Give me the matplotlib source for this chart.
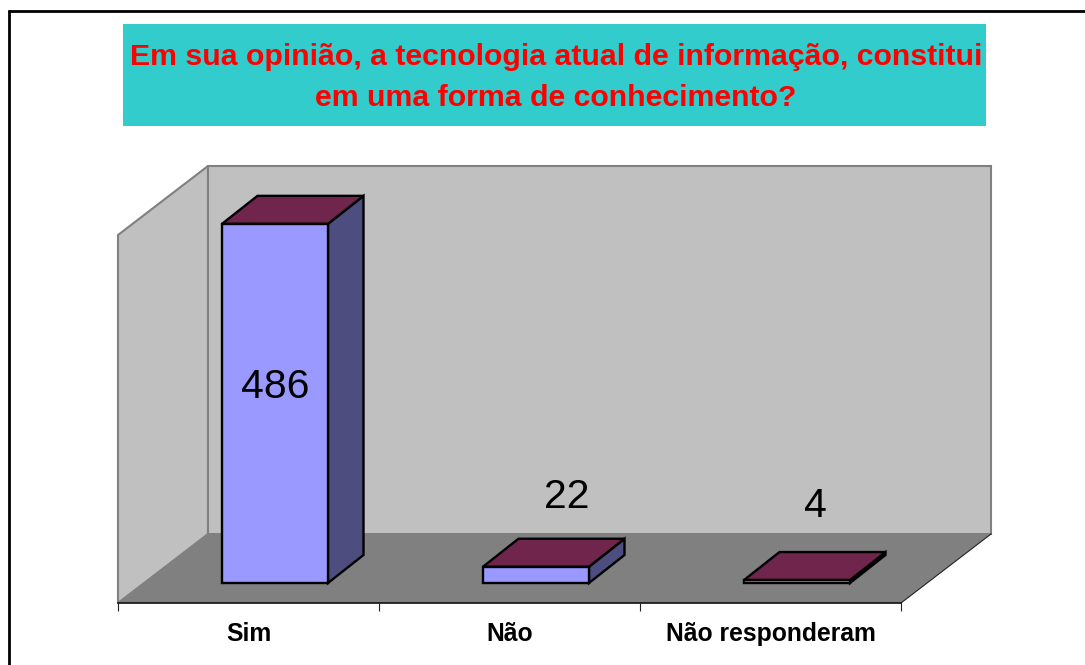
# 3d style column chart, front plane of the box is the axes
import matplotlib
matplotlib.use('Agg')
from matplotlib import pyplot as plt
from matplotlib.lines import Line2D
from matplotlib.patches import Polygon, Rectangle

plt.rcParams['font.family'] = ['Liberation Sans', 'DejaVu Sans']

categories = ['Sim', 'Não', 'Não responderam']
values = [486, 22, 4]
title = 'Em sua opinião, a tecnologia atual de informação, constitui\nem uma forma de conhecimento?'

W, H = 1085, 665
px_per_unit = 0.739
px_per_cat = 261.0

fig = plt.figure(figsize=(W / 100, H / 100), dpi=100)
fig.patch.set_facecolor('white')

# outer frame, runs off the right and bottom of the image
fig.add_artist(Line2D([9 / W, 9 / W], [0, 1 - 10 / H], color='black', lw=2.0, solid_capstyle='butt'))
fig.add_artist(Line2D([8 / W, 1], [1 - 11 / H, 1 - 11 / H], color='black', lw=2.0, solid_capstyle='butt'))

# title box
fig.add_artist(Rectangle((123 / W, 1 - 126 / H), 863 / W, 102 / H, color='#33CCCC', lw=0))
fig.text(556 / W, 1 - 77.5 / H, title, color='#FF0000', fontsize=21.75, fontweight='bold',
         ha='center', va='center', linespacing=1.55)

# axes covers the front plane
top_px, bottom_px = 235, 603
base_px = 583
ax = fig.add_axes([118 / W, 1 - bottom_px / H, 783 / W, (bottom_px - top_px) / H])
ax.set_xlim(-0.5, 2.5)
ax.set_ylim(-(bottom_px - base_px) / px_per_unit, (base_px - top_px) / px_per_unit)
ax.patch.set_visible(False)

# depth of the box and of a bar, in data units
box_dx, box_dy = 90 / px_per_cat, 69 / px_per_unit
bar_dx, bar_dy = 35.5 / px_per_cat, 28 / px_per_unit
x0, x1 = ax.get_xlim()
y0, y1 = ax.get_ylim()


def poly(points, face, edge='none', lw=0.0, z=1):
    ax.add_patch(Polygon(points, closed=True, facecolor=face, edgecolor=edge, linewidth=lw,
                         joinstyle='miter', clip_on=False, zorder=z))


wall_top = y1 + box_dy
poly([(x0, y0), (x0, y1), (x0 + box_dx, wall_top), (x0 + box_dx, y0 + box_dy)],
     '#C0C0C0', '#808080', 1.5, 1)
poly([(x0 + box_dx, y0 + box_dy), (x0 + box_dx, wall_top), (x1 + box_dx, wall_top),
      (x1 + box_dx, y0 + box_dy)], '#C0C0C0', '#808080', 1.5, 1)
poly([(x0, y0), (x0 + box_dx, y0 + box_dy), (x1 + box_dx, y0 + box_dy), (x1, y0)],
     '#808080', z=2)
ax.plot([x1, x1 + box_dx], [y0, y0 + box_dy], color='#222222', lw=0.8, clip_on=False, zorder=2)

# bars
bar_width = 106 / px_per_cat
bar_shift = 26.5 / px_per_cat
for i, v in enumerate(values):
    left = i + bar_shift - bar_width / 2
    right = left + bar_width
    poly([(right, 0), (right, v), (right + bar_dx, v + bar_dy), (right + bar_dx, bar_dy)],
         '#4D4D80', 'black', 1.7, 3)
    poly([(left, v), (left + bar_dx, v + bar_dy), (right + bar_dx, v + bar_dy), (right, v)],
         '#70264C', 'black', 1.7, 3)
    poly([(left, 0), (left, v), (right, v), (right, 0)], '#9999FF', 'black', 1.7, 4)

# value labels, offsets in points from the bar front top centre
ax.annotate(str(values[0]), (bar_shift, values[0] / 2), xytext=(0, 11.5), textcoords='offset points',
            fontsize=29.5, ha='center', va='center', zorder=5)
for i, off in [(1, (22, 50.5)), (2, (13, 53))]:
    ax.annotate(str(values[i]), (i + bar_shift, values[i]), xytext=off, textcoords='offset points',
                fontsize=29.5, ha='center', va='center', zorder=5)

# axis
ax.set_yticks([])
ax.set_xticks(range(len(categories)))
ax.set_xticklabels(categories, fontsize=17.8, fontweight='bold')
ax.set_xticks([-0.5, 0.5, 1.5, 2.5], minor=True)
ax.tick_params(axis='x', which='major', length=0, pad=13.5)
ax.tick_params(axis='x', which='minor', length=5.5, width=0.8, color='#222222')
for s in ['top', 'left', 'right']:
    ax.spines[s].set_visible(False)
ax.spines['bottom'].set_linewidth(1.2)
ax.spines['bottom'].set_color('#111111')
ax.spines['bottom'].set_zorder(2.5)

fig.savefig('out.png', dpi=100)
